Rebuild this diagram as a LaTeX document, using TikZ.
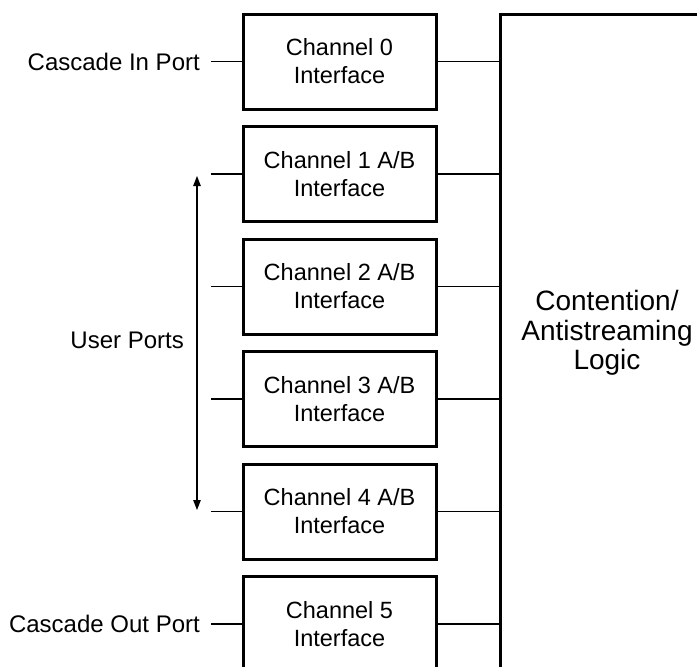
\documentclass[tikz,border=0pt]{standalone}
\usepackage{fontspec}
\setmainfont{Liberation Sans}
\usetikzlibrary{arrows.meta}
\begin{document}
\begin{tikzpicture}[x=1pt,y=-1pt,
  chbox/.style={draw=black,line width=3pt,minimum width=193pt,minimum height=95pt,inner sep=0pt,align=center,
    font=\fontsize{23.5}{28}\selectfont},
  bigbox/.style={draw=black,line width=3pt,minimum width=214pt,minimum height=658pt,inner sep=0pt,align=center,
    font=\fontsize{28}{29}\selectfont},
  lbl/.style={anchor=east,inner sep=0pt,font=\fontsize{24}{28}\selectfont},
  conn/.style={draw=black,line width=1.6pt}]
\useasboundingbox (0,0) rectangle (697,667);
\clip (0,0) rectangle (697,667);
\fill[white] (0,0) rectangle (697,667);
% big logic box
\node[bigbox] (logic) at (607,343) {};
\node[inner sep=0pt,align=center,font=\fontsize{28}{29.5}\selectfont] (logictext) at (607,333) {Contention/\\Antistreaming\\Logic};
% channel boxes
\node[chbox] (c0) at (339.5,61.5) {Channel 0\\Interface};
\node[chbox] (c1) at (339.5,174) {Channel 1 A/B\\Interface};
\node[chbox] (c2) at (339.5,286.5) {Channel 2 A/B\\Interface};
\node[chbox] (c3) at (339.5,399) {Channel 3 A/B\\Interface};
\node[chbox] (c4) at (339.5,511.5) {Channel 4 A/B\\Interface};
\node[chbox] (c5) at (339.5,624) {Channel 5\\Interface};
% right connectors
\foreach \c in {c0,c1,c2,c3,c4,c5}{
  \draw[conn] (\c.east) -- (\c.east -| logic.west);
  \coordinate (\c l) at ([xshift=-31pt]\c.west);
  \draw[conn] (\c.west) -- (\c l);
}
% side labels
\node[lbl] (inport) at (200,61.5) {Cascade In Port};
\node[lbl] (outport) at (200,624) {Cascade Out Port};
\node[lbl] (user) at (184,340) {User Ports};
% user ports arrow
\coordinate (atop) at (197,176);
\coordinate (abot) at (197,510);
\draw[line width=1.2pt,{Triangle[length=10pt,width=7.5pt]}-{Triangle[length=10pt,width=7.5pt]}] (atop) -- (abot);
\end{tikzpicture}
\end{document}
